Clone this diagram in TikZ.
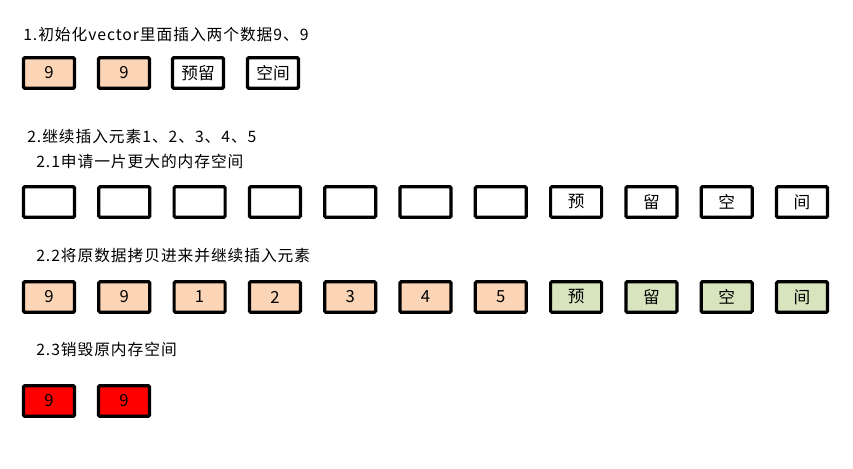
\documentclass[tikz,border=0pt]{standalone}
\usepackage{fontspec}
\setmainfont{Noto Sans CJK SC}
\newfontfamily\headfont[LetterSpace=6]{Noto Sans CJK SC}
\definecolor{peach}{RGB}{251,213,181}
\definecolor{sage}{RGB}{215,228,189}
\definecolor{vred}{RGB}{255,0,0}
\begin{document}
\begin{tikzpicture}[x=0.75pt,y=-0.75pt,
  cell/.style={draw=black,line width=2.4pt,rounded corners=1pt,minimum width=38.25pt,minimum height=23pt,inner sep=0pt,font=\fontsize{12.5}{14}\selectfont},
  pe/.style={cell,fill=peach},
  gr/.style={cell,fill=sage},
  rd/.style={cell,fill=vred},
  wh/.style={cell,fill=white},
  head/.style={anchor=west,inner sep=0pt,font=\headfont\fontsize{11.8}{14}\selectfont}]
\useasboundingbox[fill=white] (0,0) rectangle (853,468);
% headings
\node[head] (h1) at (23,35) {1.初始化vector里面插入两个数据9、9};
\node[head] (h2) at (27,137) {2.继续插入元素1、2、3、4、5};
\node[head] (h21) at (36,161) {2.1申请一片更大的内存空间};
\node[head] (h22) at (36,256) {2.2将原数据拷贝进来并继续插入元素};
\node[head] (h23) at (36,349) {2.3销毁原内存空间};
% row 1
\node[pe] (a1) at (49,73) {9};
\node[pe] (a2) at (124,73) {9};
\node[wh] (a3) at (198,73) {预留};
\node[wh] (a4) at (273,73) {空间};
% row 2
\foreach \i in {0,...,6} {\node[wh] (b\i) at (49+75.3*\i,202) {};}
\node[wh] (b7) at (49+75.3*7,202) {预};
\node[wh] (b8) at (49+75.3*8,202) {留};
\node[wh] (b9) at (49+75.3*9,202) {空};
\node[wh] (b10) at (802,202) {间};
% row 3
\node[pe] (c0) at (49,297) {9};
\node[pe] (c1) at (49+75.3,297) {9};
\node[pe] (c2) at (49+75.3*2,297) {1};
\node[pe] (c3) at (49+75.3*3,297) {2};
\node[pe] (c4) at (49+75.3*4,297) {3};
\node[pe] (c5) at (49+75.3*5,297) {4};
\node[pe] (c6) at (49+75.3*6,297) {5};
\node[gr] (c7) at (49+75.3*7,297) {预};
\node[gr] (c8) at (49+75.3*8,297) {留};
\node[gr] (c9) at (49+75.3*9,297) {空};
\node[gr] (c10) at (802,297) {间};
% row 4
\node[rd] (d0) at (49,401) {9};
\node[rd] (d1) at (124,401) {9};
\end{tikzpicture}
\end{document}
